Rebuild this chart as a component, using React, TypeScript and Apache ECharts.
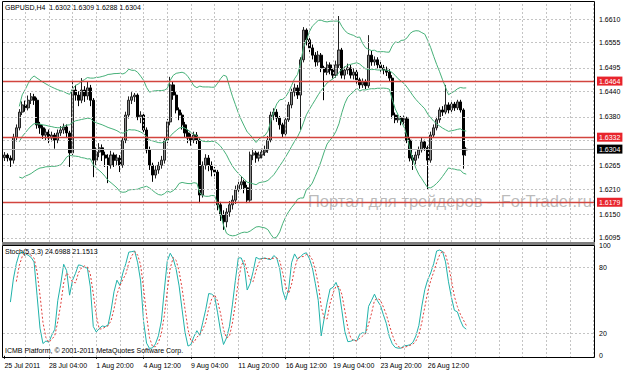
import { useEffect, useRef } from "react";
import * as echarts from "echarts";

// [open, close, low, high] per H4 bar, starting 25 Jul 2011 16:00
const ohlc: number[][] = [
  [1.6284, 1.6290, 1.6276, 1.6297], [1.6290, 1.6283, 1.6275, 1.6294], [1.6283, 1.6278, 1.6262, 1.6289], [1.6278, 1.6332, 1.6270, 1.6340],
  [1.6332, 1.6354, 1.6322, 1.6362], [1.6354, 1.6391, 1.6348, 1.6398], [1.6391, 1.6408, 1.6384, 1.6416], [1.6408, 1.6401, 1.6392, 1.6418],
  [1.6401, 1.6419, 1.6395, 1.6430], [1.6419, 1.6427, 1.6410, 1.6436], [1.6427, 1.6419, 1.6408, 1.6434], [1.6419, 1.6361, 1.6352, 1.6425],
  [1.6361, 1.6354, 1.6340, 1.6368], [1.6354, 1.6337, 1.6328, 1.6360], [1.6337, 1.6344, 1.6325, 1.6352], [1.6344, 1.6330, 1.6318, 1.6350],
  [1.6330, 1.6337, 1.6322, 1.6345], [1.6337, 1.6325, 1.6305, 1.6342], [1.6325, 1.6342, 1.6318, 1.6350], [1.6342, 1.6349, 1.6335, 1.6358],
  [1.6349, 1.6356, 1.6340, 1.6364], [1.6356, 1.6342, 1.6330, 1.6362], [1.6342, 1.6295, 1.6262, 1.6347], [1.6295, 1.6443, 1.6290, 1.6467],
  [1.6443, 1.6431, 1.6418, 1.6455], [1.6431, 1.6419, 1.6405, 1.6440], [1.6419, 1.6443, 1.6412, 1.6471], [1.6443, 1.6429, 1.6415, 1.6452],
  [1.6429, 1.6448, 1.6420, 1.6462], [1.6448, 1.6419, 1.6405, 1.6455], [1.6419, 1.6278, 1.6238, 1.6424], [1.6278, 1.6297, 1.6265, 1.6308],
  [1.6297, 1.6307, 1.6285, 1.6318], [1.6307, 1.6290, 1.6276, 1.6315], [1.6290, 1.6283, 1.6262, 1.6298], [1.6283, 1.6266, 1.6224, 1.6292],
  [1.6266, 1.6290, 1.6258, 1.6300], [1.6290, 1.6278, 1.6262, 1.6296], [1.6278, 1.6283, 1.6266, 1.6292], [1.6283, 1.6266, 1.6250, 1.6290],
  [1.6266, 1.6325, 1.6260, 1.6332], [1.6325, 1.6384, 1.6318, 1.6392], [1.6384, 1.6419, 1.6376, 1.6428], [1.6419, 1.6427, 1.6410, 1.6438],
  [1.6427, 1.6431, 1.6415, 1.6436], [1.6431, 1.6380, 1.6372, 1.6435], [1.6380, 1.6384, 1.6365, 1.6393], [1.6384, 1.6349, 1.6340, 1.6390],
  [1.6349, 1.6302, 1.6294, 1.6355], [1.6302, 1.6266, 1.6255, 1.6310], [1.6266, 1.6243, 1.6227, 1.6272], [1.6243, 1.6255, 1.6235, 1.6266],
  [1.6255, 1.6266, 1.6246, 1.6274], [1.6266, 1.6278, 1.6258, 1.6288], [1.6278, 1.6325, 1.6270, 1.6332], [1.6325, 1.6368, 1.6318, 1.6375],
  [1.6368, 1.6455, 1.6360, 1.6474], [1.6455, 1.6431, 1.6420, 1.6462], [1.6431, 1.6396, 1.6388, 1.6438], [1.6396, 1.6384, 1.6372, 1.6402],
  [1.6384, 1.6361, 1.6350, 1.6390], [1.6361, 1.6342, 1.6332, 1.6368], [1.6342, 1.6330, 1.6318, 1.6350], [1.6330, 1.6325, 1.6312, 1.6340],
  [1.6325, 1.6337, 1.6318, 1.6345], [1.6337, 1.6325, 1.6316, 1.6344], [1.6325, 1.6196, 1.6177, 1.6330], [1.6196, 1.6266, 1.6190, 1.6275],
  [1.6266, 1.6283, 1.6256, 1.6292], [1.6283, 1.6266, 1.6252, 1.6290], [1.6266, 1.6255, 1.6240, 1.6275], [1.6255, 1.6250, 1.6235, 1.6262],
  [1.6250, 1.6173, 1.6160, 1.6255], [1.6173, 1.6149, 1.6135, 1.6180], [1.6149, 1.6133, 1.6114, 1.6160], [1.6133, 1.6156, 1.6120, 1.6165],
  [1.6156, 1.6173, 1.6145, 1.6182], [1.6173, 1.6184, 1.6162, 1.6195], [1.6184, 1.6208, 1.6175, 1.6218], [1.6208, 1.6220, 1.6198, 1.6232],
  [1.6220, 1.6227, 1.6210, 1.6240], [1.6227, 1.6213, 1.6200, 1.6232], [1.6213, 1.6184, 1.6177, 1.6220], [1.6184, 1.6290, 1.6180, 1.6298],
  [1.6290, 1.6295, 1.6278, 1.6305], [1.6295, 1.6283, 1.6272, 1.6300], [1.6283, 1.6290, 1.6275, 1.6298], [1.6290, 1.6297, 1.6282, 1.6305],
  [1.6297, 1.6302, 1.6288, 1.6312], [1.6302, 1.6325, 1.6295, 1.6335], [1.6325, 1.6384, 1.6320, 1.6392], [1.6384, 1.6391, 1.6372, 1.6400],
  [1.6391, 1.6377, 1.6368, 1.6398], [1.6377, 1.6361, 1.6350, 1.6382], [1.6361, 1.6340, 1.6330, 1.6366], [1.6340, 1.6373, 1.6336, 1.6380],
  [1.6373, 1.6408, 1.6368, 1.6415], [1.6408, 1.6438, 1.6400, 1.6446], [1.6438, 1.6448, 1.6428, 1.6458], [1.6448, 1.6431, 1.6422, 1.6455],
  [1.6431, 1.6514, 1.6349, 1.6520], [1.6514, 1.6584, 1.6508, 1.6591], [1.6584, 1.6561, 1.6548, 1.6588], [1.6561, 1.6542, 1.6530, 1.6568],
  [1.6542, 1.6525, 1.6515, 1.6550], [1.6525, 1.6509, 1.6498, 1.6532], [1.6509, 1.6525, 1.6500, 1.6535], [1.6525, 1.6495, 1.6485, 1.6530],
  [1.6495, 1.6485, 1.6419, 1.6500], [1.6485, 1.6502, 1.6478, 1.6510], [1.6502, 1.6490, 1.6480, 1.6508], [1.6490, 1.6478, 1.6470, 1.6495],
  [1.6478, 1.6502, 1.6472, 1.6512], [1.6502, 1.6537, 1.6495, 1.6617], [1.6537, 1.6478, 1.6470, 1.6542], [1.6478, 1.6490, 1.6468, 1.6498],
  [1.6490, 1.6495, 1.6480, 1.6505], [1.6495, 1.6478, 1.6470, 1.6502], [1.6478, 1.6485, 1.6468, 1.6494], [1.6485, 1.6467, 1.6458, 1.6490],
  [1.6467, 1.6455, 1.6446, 1.6472], [1.6455, 1.6462, 1.6448, 1.6470], [1.6462, 1.6453, 1.6445, 1.6468], [1.6453, 1.6525, 1.6448, 1.6572],
  [1.6525, 1.6509, 1.6500, 1.6535], [1.6509, 1.6514, 1.6500, 1.6522], [1.6514, 1.6502, 1.6494, 1.6520], [1.6502, 1.6495, 1.6486, 1.6510],
  [1.6495, 1.6490, 1.6480, 1.6502], [1.6490, 1.6485, 1.6476, 1.6498], [1.6485, 1.6471, 1.6462, 1.6492], [1.6471, 1.6384, 1.6376, 1.6478],
  [1.6384, 1.6373, 1.6365, 1.6390], [1.6373, 1.6377, 1.6366, 1.6385], [1.6377, 1.6368, 1.6360, 1.6382], [1.6368, 1.6375, 1.6362, 1.6383],
  [1.6375, 1.6325, 1.6318, 1.6380], [1.6325, 1.6283, 1.6275, 1.6330], [1.6283, 1.6278, 1.6255, 1.6290], [1.6278, 1.6290, 1.6268, 1.6298],
  [1.6290, 1.6302, 1.6282, 1.6310], [1.6302, 1.6321, 1.6296, 1.6330], [1.6321, 1.6307, 1.6300, 1.6326], [1.6307, 1.6278, 1.6208, 1.6312],
  [1.6278, 1.6337, 1.6272, 1.6345], [1.6337, 1.6354, 1.6330, 1.6362], [1.6354, 1.6373, 1.6348, 1.6380], [1.6373, 1.6396, 1.6366, 1.6402],
  [1.6396, 1.6391, 1.6382, 1.6405], [1.6391, 1.6408, 1.6386, 1.6455], [1.6408, 1.6396, 1.6388, 1.6414], [1.6396, 1.6410, 1.6390, 1.6416],
  [1.6410, 1.6401, 1.6394, 1.6415], [1.6401, 1.6415, 1.6396, 1.6420], [1.6415, 1.6396, 1.6390, 1.6420], [1.6396, 1.6290, 1.6258, 1.6400],
  [1.6302, 1.6304, 1.6288, 1.6309],
];

const SLOTS = 200;
const timeLabelIndex = [0, 15, 31, 47, 63, 79, 95, 111, 127, 143];
const timeLabelText = ["25 Jul 2011", "28 Jul 04:00", "1 Aug 20:00", "4 Aug 12:00", "9 Aug 04:00", "11 Aug 20:00", "16 Aug 12:00", "19 Aug 04:00", "23 Aug 20:00", "26 Aug 12:00"];
const priceTicks = [1.6610, 1.6555, 1.6495, 1.6440, 1.6380, 1.6325, 1.6265, 1.6210, 1.6150, 1.6095];
const hiddenPriceLabels = [1.6325];
const levelLines = [1.6464, 1.6332, 1.6179];
const bidPrice = 1.6304;
const stochGridLevels = [80, 20];
const stochLabelLevels = [100, 80, 20, 0];
const titleText = "GBPUSD,H4  1.6302 1.6309 1.6288 1.6304";
const stochTitle = "Stoch(5,3,3) 24.6988 21.1513";
const copyright = "ICMB Platform, © 2001-2011 MetaQuotes Software Corp.";
const watermark = "Портал для трейдеров – ForTrader.ru";

const BB_PERIOD = 20, BB_DEV = 2;
const K_PERIOD = 5, SLOWING = 3, D_PERIOD = 3;

function bollinger() {
  const closes = ohlc.map((d) => d[1]);
  const up: (number | null)[] = [], mid: (number | null)[] = [], lo: (number | null)[] = [];
  closes.forEach((_, i) => {
    const w = closes.slice(Math.max(0, i - BB_PERIOD + 1), i + 1);
    if (w.length < 6) { up.push(null); mid.push(null); lo.push(null); return; }
    const m = w.reduce((a, b) => a + b, 0) / w.length;
    const sd = Math.sqrt(w.reduce((a, b) => a + (b - m) * (b - m), 0) / w.length);
    mid.push(m); up.push(m + BB_DEV * sd); lo.push(m - BB_DEV * sd);
  });
  return { up, mid, lo };
}

function stochastic() {
  const k: (number | null)[] = [];
  const d: (number | null)[] = [];
  const num: number[] = [], den: number[] = [];
  ohlc.forEach((_, i) => {
    const s = Math.max(0, i - K_PERIOD + 1);
    let hh = -Infinity, ll = Infinity;
    for (let j = s; j <= i; j++) { hh = Math.max(hh, ohlc[j][3]); ll = Math.min(ll, ohlc[j][2]); }
    num.push(ohlc[i][1] - ll); den.push(hh - ll);
  });
  ohlc.forEach((_, i) => {
    if (i < SLOWING - 1) { k.push(null); return; }
    let n = 0, dd = 0;
    for (let j = i - SLOWING + 1; j <= i; j++) { n += num[j]; dd += den[j]; }
    k.push(dd === 0 ? 100 : (100 * n) / dd);
  });
  ohlc.forEach((_, i) => {
    const w = k.slice(Math.max(0, i - D_PERIOD + 1), i + 1).filter((v) => v !== null) as number[];
    if (w.length < D_PERIOD) { d.push(null); return; }
    d.push(w.reduce((a, b) => a + b, 0) / w.length);
  });
  return { k, d };
}

const FONT = "'Liberation Sans', Arial, sans-serif";

export default function App() {
  const ref = useRef<HTMLDivElement>(null);
  useEffect(() => {
    if (!ref.current) return;
    const chart = echarts.init(ref.current, null, { renderer: "svg" });
    const cats = Array.from({ length: SLOTS }, (_, i) => String(i));
    const bb = bollinger();
    const st = stochastic();
    const vGrid: number[] = [];
    for (let i = 7; i < SLOTS; i += 8) vGrid.push(i);

    const gridLine = { color: "#c4c4c4", width: 1, type: [2, 2] as any };
    const vLines = vGrid.map((i) => ({ xAxis: i, lineStyle: gridLine, label: { show: false } }));
    const txt = { fontFamily: FONT, fontSize: 7, color: "#000" };

    chart.setOption({
      animation: false,
      backgroundColor: "#fff",
      grid: [
        { left: 3, right: 28, top: 2, height: 240 },
        { left: 3, right: 28, top: 245, height: 113 },
      ],
      xAxis: [
        { type: "category", data: cats, gridIndex: 0, boundaryGap: true, axisLine: { show: false }, axisTick: { show: false }, axisLabel: { show: false }, splitLine: { show: false } },
        {
          type: "category", data: cats, gridIndex: 1, boundaryGap: true,
          axisLine: { show: false },
          axisTick: { show: true, alignWithLabel: true, length: 3, interval: (i: number) => timeLabelIndex.includes(i), lineStyle: { color: "#000" } },
          axisLabel: {
            show: true, interval: (i: number) => timeLabelIndex.includes(i), align: "left", margin: 4, ...txt,
            formatter: (_v: string, i: number) => timeLabelText[timeLabelIndex.indexOf(i)] ?? "",
          },
          splitLine: { show: false },
        },
      ],
      yAxis: [
        { type: "value", gridIndex: 0, min: 1.60855, max: 1.665, position: "right", axisLine: { show: false }, axisTick: { show: false }, axisLabel: { show: false }, splitLine: { show: false } },
        { type: "value", gridIndex: 1, min: -2, max: 100.5, position: "right", axisLine: { show: false }, axisTick: { show: false }, axisLabel: { show: false }, splitLine: { show: false } },
      ],
      graphic: [
        { type: "rect", shape: { x: 2.5, y: 1.5, width: 592, height: 241 }, style: { fill: "none", stroke: "#000", lineWidth: 1 }, z: 10 },
        { type: "rect", shape: { x: 2, y: 242, width: 593, height: 3 }, style: { fill: "#7f7f7f" }, z: 10 },
        { type: "rect", shape: { x: 2.5, y: 245.5, width: 592, height: 112 }, style: { fill: "none", stroke: "#000", lineWidth: 1 }, z: 10 },
        { type: "text", x: 5, y: 4, style: { text: titleText, fill: "#000", font: `7px ${FONT}` }, z: 11 },
        { type: "text", x: 5, y: 248, style: { text: stochTitle, fill: "#000", font: `7px ${FONT}` }, z: 11 },
        { type: "text", x: 5, y: 347, style: { text: copyright, fill: "#000", font: `7px ${FONT}` }, z: 11 },
        { type: "text", x: 308, y: 192, style: { text: watermark, fill: "rgba(120,120,120,0.5)", font: `16.5px ${FONT}` }, z: 0 },
      ],
      series: [
        {
          type: "line", xAxisIndex: 0, yAxisIndex: 0, data: [], z: 1, silent: true,
          markLine: {
            silent: true, symbol: ["none", "none"], animation: false, precision: 6,
            data: [
              ...priceTicks.map((p) => ({
                yAxis: p, lineStyle: gridLine,
                label: { show: !hiddenPriceLabels.includes(p), position: "end", distance: 4, formatter: p.toFixed(4), ...txt },
              })),
              ...vLines,
            ],
          },
        },
        {
          type: "line", xAxisIndex: 0, yAxisIndex: 0, data: [], z: 6, silent: true,
          markLine: {
            silent: true, symbol: ["none", "none"], animation: false, precision: 6,
            data: [
              { yAxis: bidPrice, lineStyle: { color: "#b8b8b8", width: 1, type: "solid" },
                label: { show: true, position: "end", distance: 2, formatter: bidPrice.toFixed(4), ...txt, color: "#fff", backgroundColor: "#000", padding: [1, 2, 1, 2] } },
              ...levelLines.map((p) => ({
                yAxis: p, lineStyle: { color: "#d2443e", width: 1.3, type: "solid" },
                label: { show: true, position: "end", distance: 2, formatter: p.toFixed(4), ...txt, color: "#fff", backgroundColor: "#e8242c", padding: [1, 2, 1, 2] },
              })),
            ],
          },
        },
        {
          type: "candlestick", xAxisIndex: 0, yAxisIndex: 0, data: ohlc, barWidth: 2.6, z: 3,
          itemStyle: { color: "#8c8c8c", color0: "#000", borderColor: "#222", borderColor0: "#000", borderWidth: 1 },
        },
        ...[bb.up, bb.mid, bb.lo].map((d) => ({
          type: "line", xAxisIndex: 0, yAxisIndex: 0, data: d, symbol: "none", z: 4,
          lineStyle: { color: "#46b078", width: 1 },
        })),
        {
          type: "line", xAxisIndex: 1, yAxisIndex: 1, data: [], z: 1, silent: true,
          markLine: {
            silent: true, symbol: ["none", "none"], animation: false, precision: 4,
            data: [
              ...stochLabelLevels.map((v) => ({
                yAxis: v,
                lineStyle: stochGridLevels.includes(v) ? gridLine : { color: "rgba(0,0,0,0)", width: 1 },
                label: { show: true, position: "end", distance: 4, formatter: String(v), ...txt },
              })),
              ...vLines,
            ],
          },
        },
        { type: "line", xAxisIndex: 1, yAxisIndex: 1, data: st.k, symbol: "none", z: 4, lineStyle: { color: "#20b2aa", width: 1 } },
        { type: "line", xAxisIndex: 1, yAxisIndex: 1, data: st.d, symbol: "none", z: 5, lineStyle: { color: "#e0403c", width: 1, type: [2, 2] } },
      ],
    });
    return () => chart.dispose();
  }, []);
  return <div ref={ref} style={{ position: "fixed", left: 0, top: 0, width: 623, height: 373 }} />;
}
